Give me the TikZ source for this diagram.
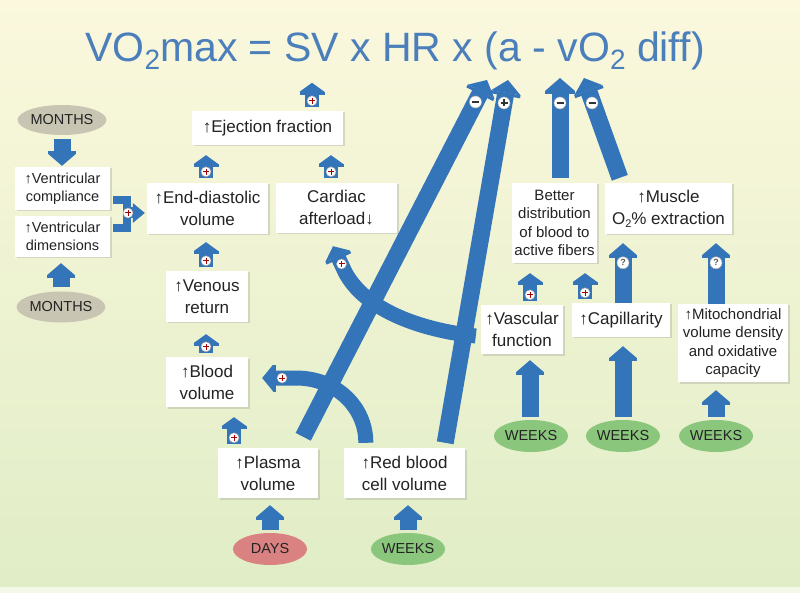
\documentclass[tikz,border=0pt]{standalone}
\usepackage{fontspec}
\setmainfont{Liberation Sans}
\usetikzlibrary{arrows.meta,calc,shadows,shapes.geometric}
\definecolor{arrowblue}{RGB}{52,116,184}
\definecolor{titleblue}{RGB}{75,127,188}
\definecolor{txt}{RGB}{35,35,35}
\definecolor{monthgray}{RGB}{200,197,178}
\definecolor{daysred}{RGB}{218,130,130}
\definecolor{weeksgreen}{RGB}{138,198,124}
\definecolor{bgtop}{RGB}{251,248,221}
\definecolor{bgbot}{RGB}{224,237,198}
\newcommand\lowsub[2]{\raisebox{-0.18em}{\fontsize{#1}{#1}\selectfont #2}}
\newcommand\upar{{\bfseries ↑}}
\newcommand\dnar{{\bfseries ↓}}
\begin{document}
\begin{tikzpicture}[x=1pt,y=-1pt,
  box/.style={fill=white, text=txt, align=center, inner sep=0pt,
    font=\fontsize{17}{22}\selectfont,
    drop shadow={shadow xshift=1.5pt,shadow yshift=-1.5pt,opacity=0.25}},
  sbox/.style={box, font=\fontsize{15}{18.3}\selectfont},
  ell/.style={ellipse, inner sep=0pt, minimum width=72pt, minimum height=32pt,
    text=txt, font=\fontsize{14.5}{16}\selectfont},
  sarr/.style={arrowblue, line width=14pt,
    -{Rectangle[width=25pt,length=3pt,line width=0pt,sep=0pt]Triangle[width=25pt,length=9pt,line width=0pt,sep=0pt]}},
  marr/.style={arrowblue, line width=17pt,
    -{Rectangle[width=28pt,length=3pt,line width=0pt,sep=0pt]Triangle[width=28pt,length=12pt,line width=0pt,sep=0pt]}},
  larr/.style={arrowblue, line width=17pt,
    -{Rectangle[width=30pt,length=3pt,line width=0pt,sep=0pt]Triangle[width=30pt,length=13pt,line width=0pt,sep=0pt]}},
  carr/.style={arrowblue, line width=15pt,
    -{Rectangle[width=27pt,length=3pt,line width=0pt,sep=0pt]Triangle[width=27pt,length=11pt,line width=0pt,sep=0pt]}},
  bracketline/.style={arrowblue, line width=8pt, line join=miter},
  qc/.style={circle, fill=white, draw=gray!60, line width=0.5pt, inner sep=0pt,
    minimum size=12pt, font=\fontsize{9}{9}\selectfont\bfseries, text=gray!70!black},
  pc/.pic={\draw[fill=white, draw=gray!70, line width=0.5pt] (0,0) circle[radius=5pt];
    \draw[line width=1pt, red!65!black] (-3,0)--(3,0) (0,-3)--(0,3);},
  pcl/.pic={\draw[fill=white, draw=gray!60, line width=0.5pt] (0,0) circle[radius=6pt];
    \draw[line width=1.4pt, gray!40!black] (-3.5,0)--(3.5,0) (0,-3.5)--(0,3.5);},
  mc/.pic={\draw[fill=white, draw=gray!60, line width=0.5pt] (0,0) circle[radius=6pt];
    \draw[line width=1.6pt, gray!40!black] (-3.5,0)--(3.5,0);}
]
\path[use as bounding box] (0,0) rectangle (800,593);
\shade[top color=bgtop, bottom color=bgbot] (0,0) rectangle (800,593);
\fill[white!60!bgbot] (0,587) rectangle (800,593);

% title
\node[anchor=base, text=titleblue, inner sep=0pt, font=\fontsize{41}{41}\selectfont] (ttl) at (395,62)
  {VO\lowsub{28}{2}max = SV x HR x (a - vO\lowsub{28}{2} diff)};

% boxes
\node[box, minimum width=151pt, minimum height=34pt] (ef) at (267.5,128) {\upar Ejection fraction};
\node[sbox, font=\fontsize{14.5}{18.3}\selectfont, minimum width=95pt, minimum height=43pt] (vc) at (62.5,188.5) {\upar Ventricular\\compliance};
\node[sbox, font=\fontsize{14.5}{18.3}\selectfont, minimum width=95pt, minimum height=41pt] (vd) at (62.5,236.5) {\upar Ventricular\\dimensions};
\node[box, minimum width=121pt, minimum height=51pt] (edv) at (207.5,208.5) {\upar End-diastolic\\volume};
\node[box, minimum width=121pt, minimum height=50pt] (ca) at (336.5,208) {Cardiac\\afterload\dnar};
\node[box, minimum width=82pt, minimum height=51pt] (vr) at (207,296.5) {\upar Venous\\return};
\node[box, minimum width=82pt, minimum height=50pt] (bv) at (207,382) {\upar Blood\\volume};
\node[box, minimum width=100pt, minimum height=50pt] (pv) at (268,473) {\upar Plasma\\volume};
\node[box, minimum width=121pt, minimum height=50pt] (rbc) at (404.5,473) {\upar Red blood\\cell volume};
\node[sbox, minimum width=85pt, minimum height=80pt] (bd) at (554.5,223) {Better\\distribution\\of blood to\\active fibers};
\node[box, minimum width=127pt, minimum height=51pt] (mo) at (668.5,208.5) {\upar Muscle\\O\lowsub{11}{2}\% extraction};
\node[box, minimum width=82pt, minimum height=49pt] (vf) at (522,329.5) {\upar Vascular\\function};
\node[box, minimum width=98pt, minimum height=34pt] (cap) at (621,320) {\upar Capillarity};
\node[sbox, minimum width=110pt, minimum height=78pt] (mito) at (733,343) {\upar Mitochondrial\\volume density\\and oxidative\\capacity};

% time ellipses
\node[ell, fill=monthgray, minimum width=70pt, minimum height=30pt] (m1) at (62,120) {MONTHS};
\node[ell, fill=monthgray, minimum height=31pt] (m2) at (61,307) {MONTHS};
\node[ell, fill=daysred, minimum width=74pt] (days) at (270,549) {DAYS};
\node[ell, fill=weeksgreen] (wr) at (408,549) {WEEKS};
\node[ell, fill=weeksgreen] (w1) at (531,436) {WEEKS};
\node[ell, fill=weeksgreen] (w2) at (623,436) {WEEKS};
\node[ell, fill=weeksgreen] (w3) at (716,436) {WEEKS};

% long arrows to the equation
\coordinate (t1) at (487,80);
\coordinate (t2) at (508,80);
\coordinate (t3) at (560,78);
\coordinate (t4) at (584,78);
\draw[larr] ($(pv.north east)+(-15,-11)$) -- (t1);
\draw[larr] ($(rbc.north east)+(-20,-5)$) -- (t2);
\draw[larr] ($(bd.north)+(5.5,-5)$) -- (t3);
\draw[larr] ($(mo.north west)+(15,-5)$) -- (t4);
\pic at (475.5,102) {mc};
\pic at (504,103) {pcl};
\pic at (560,103) {mc};
\pic at (592,103) {mc};

% curved arrows
\draw[carr] ($(rbc.north west)+(22,-5)$) .. controls (366,407) and (336,378) .. (296,378) -- ($(bv.east)+(14,-4)$);
\pic at (282,378) {pc};
\draw[carr] ($(vf.west)+(-5,6.5)$) .. controls (420,330) and (365,310) .. (345,272) -- ($(ca.south)+(-3.5,13)$);
\pic at (341.5,264) {pc};

% small plus arrows
\draw[sarr] ($(ef.north)+(44.5,-4)$) -- ($(ef.north)+(44.5,-28)$);
\pic at ($(ef.north)+(44.5,-10)$) {pc};
\draw[sarr] ($(edv.north)+(-1.5,-5)$) -- ($(edv.north |- ef.south)+(-1.5,10)$);
\pic at ($(edv.north)+(-1.5,-11)$) {pc};
\draw[sarr] ($(ca.north)+(-5.5,-5)$) -- ($(ca.north |- ef.south)+(-5.5,10)$);
\pic at ($(ca.north)+(-5.5,-11)$) {pc};
\draw[sarr] ($(vr.north)+(-1,-4)$) -- ($(vr.north |- edv.south)+(-1,8)$);
\pic at ($(vr.north)+(-1,-10)$) {pc};
\draw[sarr] ($(bv.north)+(-1,-4)$) -- ($(bv.north |- vr.south)+(-1,12)$);
\pic at ($(bv.north)+(-1,-10)$) {pc};
\draw[sarr] ($(pv.north)+(-34,-4)$) -- ($(bv.south -| pv.north)+(-34,10)$);
\pic at ($(pv.north)+(-34,-10)$) {pc};
\draw[sarr] ($(vf.north)+(8,-4)$) -- ($(bd.south -| vf.north)+(8,10)$);
\pic at ($(vf.north)+(8,-10)$) {pc};
\draw[sarr] ($(cap.north)+(-36,-4)$) -- ($(bd.south -| cap.north)+(-36,10)$);
\pic at ($(cap.north)+(-36,-10)$) {pc};

% plain arrows from time scales
\draw[marr] ($(m1.south)+(0,4)$) -- ($(vc.north -| m1.south)+(0,-1)$);
\draw[marr] ($(m2.north)+(0,-4)$) -- ($(vd.south -| m2.north)+(0,6)$);
\draw[marr] ($(days.north)+(0,-3)$) -- ($(pv.south -| days.north)+(0,7)$);
\draw[marr] ($(wr.north)+(0,-3)$) -- ($(rbc.south -| wr.north)+(0,7)$);
\draw[marr] ($(w1.north)+(-1,-3)$) -- ($(vf.south -| w1.north)+(-1,6)$);
\draw[marr] ($(w2.north)+(0,-3)$) -- ($(cap.south -| w2.north)+(0,9)$);
\draw[marr] ($(w3.north)+(0,-3)$) -- ($(mito.south -| w3.north)+(0,8)$);

% question-mark arrows into muscle extraction
\draw[marr] ($(cap.north)+(2,0)$) -- ($(mo.south -| cap.north)+(2,9)$);
\node[qc] (q1) at ($(cap.north)+(2,-40)$) {?};
\draw[marr] ($(mito.north)+(-17,0)$) -- ($(mo.south -| mito.north)+(-17,9)$);
\node[qc] (q2) at ($(mito.north)+(-17,-41)$) {?};

% bracket from ventricular boxes into end-diastolic volume
\coordinate (bkt) at ($(vc.south east)+(3,-10.5)$);
\coordinate (bkb) at ($(vd.east)+(3,-8.5)$);
\coordinate (bkm) at (128,213);
\draw[bracketline] (bkt) -- ++(13.5,0) |- (bkb);
\draw[arrowblue, line width=11pt, -{Triangle[width=20pt,length=12pt,line width=0pt]}] (bkm) -- ($(edv.west |- bkm)+(-2,0)$);
\pic at (bkm) {pc};
\end{tikzpicture}
\end{document}
